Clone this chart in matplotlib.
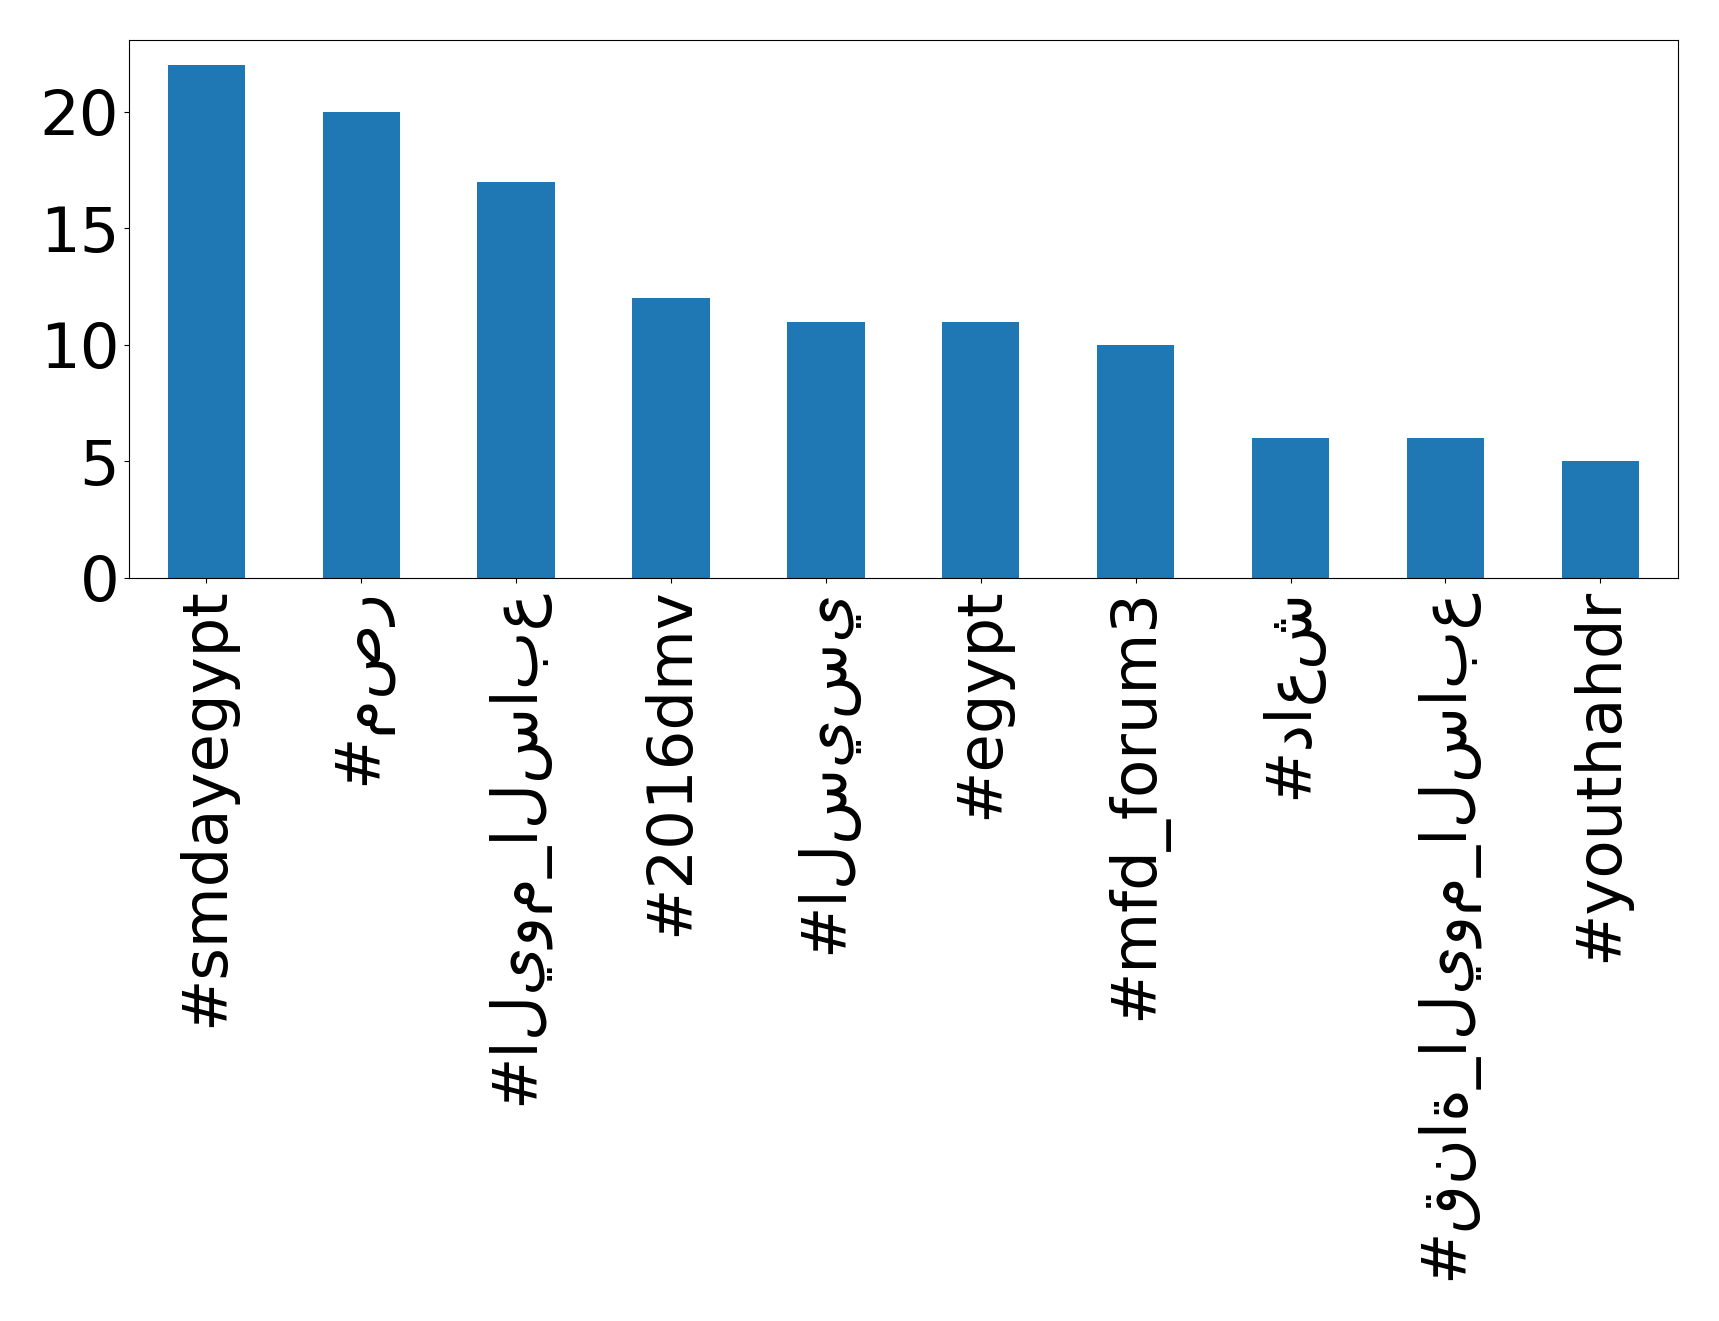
import pandas as pd
import matplotlib
matplotlib.use("Agg")
import matplotlib.pyplot as plt

hashtags = ["#smdayegypt", "#مصر", "#اليوم_السابع", "#2016dmv", "#السيسي",
            "#egypt", "#mfd_forum3", "#داعش", "#قناة_اليوم_السابع", "#youthahdr"]
counts = [22, 20, 17, 12, 11, 11, 10, 6, 6, 5]

s = pd.Series(counts, index=hashtags)

fig = plt.figure(figsize=(17.19, 13.21), dpi=100)
ax = fig.add_axes([0.075, 0.5625, 0.901, 0.4075])
s.plot(kind="bar", ax=ax, color="#1f77b4")
ax.tick_params(axis="both", labelsize=45)
ax.set_yticks([0, 5, 10, 15, 20])
ax.set_xticklabels(hashtags, rotation=90)

fig.savefig("out.png", dpi=100)
